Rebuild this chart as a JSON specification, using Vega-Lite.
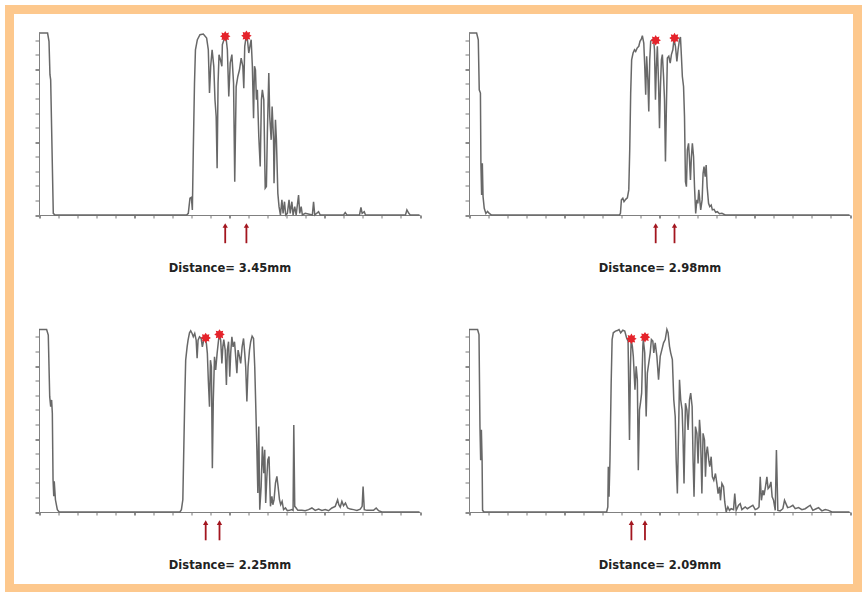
{
"$schema": "https://vega.github.io/schema/vega-lite/v6.json",
"width": 848, "height": 579,
"autosize": {"type": "none"},
"padding": {"left": 9.5, "top": 9.5, "right": 4.5, "bottom": 3.5},
"background": "white",
"config": {
  "view": {"stroke": "#FDC88D", "strokeWidth": 9},
  "axis": {"grid": false, "labels": false, "domainColor": "#808080", "tickColor": "#787878", "domainWidth": 1, "tickWidth": 1,
           "titleFont": "DejaVu Sans", "titleFontSize": 11.5, "titleFontWeight": "bold", "titleColor": "#222222"}
},
"datasets": {
  "tl": [{"x":0,"y":10},{"x":0.36,"y":10},{"x":0.42,"y":9.54},{"x":0.46,"y":7.71},{"x":0.49,"y":7.43},{"x":0.6,"y":0.09},{"x":0.67,"y":0},{"x":6.2,"y":0},{"x":6.27,"y":0.09},{"x":6.34,"y":0.92},{"x":6.4,"y":0.97},{"x":6.44,"y":0.28},{"x":6.48,"y":3.58},{"x":6.53,"y":7.25},{"x":6.57,"y":9.08},{"x":6.65,"y":9.63},{"x":6.76,"y":9.91},{"x":6.9,"y":9.94},{"x":7.04,"y":9.72},{"x":7.11,"y":9.08},{"x":7.16,"y":6.7},{"x":7.21,"y":8.17},{"x":7.27,"y":9.08},{"x":7.34,"y":8.17},{"x":7.39,"y":6.33},{"x":7.44,"y":5.41},{"x":7.48,"y":2.57},{"x":7.52,"y":7.25},{"x":7.56,"y":8.81},{"x":7.62,"y":8.53},{"x":7.68,"y":8.17},{"x":7.7,"y":9.36},{"x":7.79,"y":9.72},{"x":7.86,"y":9.67},{"x":7.91,"y":9.08},{"x":7.97,"y":6.51},{"x":8.03,"y":8.35},{"x":8.1,"y":8.81},{"x":8.17,"y":7.25},{"x":8.22,"y":1.83},{"x":8.28,"y":7.06},{"x":8.35,"y":7.61},{"x":8.42,"y":7.98},{"x":8.49,"y":8.62},{"x":8.56,"y":8.17},{"x":8.6,"y":6.97},{"x":8.64,"y":9.27},{"x":8.7,"y":9.82},{"x":8.75,"y":9.67},{"x":8.81,"y":8.9},{"x":8.87,"y":9.36},{"x":8.91,"y":9.63},{"x":8.96,"y":8.17},{"x":9.01,"y":5.32},{"x":9.05,"y":8.17},{"x":9.09,"y":7.98},{"x":9.13,"y":6.33},{"x":9.17,"y":6.88},{"x":9.23,"y":4.31},{"x":9.29,"y":2.66},{"x":9.34,"y":6.33},{"x":9.38,"y":6.88},{"x":9.44,"y":6.33},{"x":9.5,"y":1.47},{"x":9.55,"y":1.56},{"x":9.59,"y":4.5},{"x":9.65,"y":7.8},{"x":9.69,"y":5.41},{"x":9.75,"y":4.13},{"x":9.79,"y":5.96},{"x":9.85,"y":4.13},{"x":9.87,"y":1.74},{"x":9.93,"y":5.23},{"x":9.97,"y":4.13},{"x":10.03,"y":1.19},{"x":10.08,"y":0.46},{"x":10.14,"y":0},{"x":10.2,"y":0.83},{"x":10.25,"y":0.09},{"x":10.31,"y":0.73},{"x":10.36,"y":0},{"x":10.43,"y":0.09},{"x":10.5,"y":0.83},{"x":10.55,"y":0.09},{"x":10.62,"y":0.73},{"x":10.67,"y":0},{"x":10.74,"y":0.46},{"x":10.8,"y":0},{"x":10.9,"y":1.1},{"x":10.95,"y":0.09},{"x":11.01,"y":0.46},{"x":11.06,"y":0},{"x":11.18,"y":0.09},{"x":11.48,"y":0},{"x":11.53,"y":0.73},{"x":11.58,"y":0},{"x":11.74,"y":0.18},{"x":11.81,"y":0},{"x":12.79,"y":0},{"x":12.86,"y":0.13},{"x":12.93,"y":0},{"x":13.46,"y":0},{"x":13.52,"y":0.42},{"x":13.57,"y":0.09},{"x":13.66,"y":0.18},{"x":13.71,"y":0},{"x":15.39,"y":0},{"x":15.45,"y":0.28},{"x":15.53,"y":0.09},{"x":15.59,"y":0},{"x":15.98,"y":0}],
  "tr": [{"x":0,"y":10},{"x":0.32,"y":10},{"x":0.39,"y":9.63},{"x":0.43,"y":6.88},{"x":0.48,"y":6.7},{"x":0.5,"y":2.84},{"x":0.53,"y":1.1},{"x":0.56,"y":2.84},{"x":0.59,"y":1.01},{"x":0.64,"y":0.37},{"x":0.71,"y":0.09},{"x":0.78,"y":0.2},{"x":0.85,"y":0.09},{"x":0.95,"y":0},{"x":6.32,"y":0},{"x":6.36,"y":0.09},{"x":6.4,"y":0.83},{"x":6.46,"y":0.92},{"x":6.51,"y":0.73},{"x":6.58,"y":0.86},{"x":6.65,"y":0.94},{"x":6.71,"y":1.38},{"x":6.75,"y":3.58},{"x":6.79,"y":6.7},{"x":6.83,"y":8.53},{"x":6.89,"y":8.9},{"x":6.95,"y":9.08},{"x":7,"y":8.99},{"x":7.06,"y":9.17},{"x":7.13,"y":9.27},{"x":7.18,"y":9.54},{"x":7.24,"y":9.67},{"x":7.28,"y":9.85},{"x":7.34,"y":9.45},{"x":7.38,"y":8.17},{"x":7.42,"y":6.61},{"x":7.46,"y":8.72},{"x":7.51,"y":7.43},{"x":7.55,"y":5.69},{"x":7.59,"y":8.53},{"x":7.63,"y":9.54},{"x":7.69,"y":9.63},{"x":7.75,"y":9.67},{"x":7.79,"y":9.08},{"x":7.83,"y":6.33},{"x":7.87,"y":8.17},{"x":7.91,"y":9.27},{"x":7.96,"y":7.25},{"x":8,"y":4.77},{"x":8.04,"y":7.06},{"x":8.08,"y":8.53},{"x":8.12,"y":8.81},{"x":8.17,"y":7.61},{"x":8.21,"y":6.33},{"x":8.25,"y":2.94},{"x":8.29,"y":5.96},{"x":8.33,"y":8.62},{"x":8.39,"y":8.72},{"x":8.45,"y":8.35},{"x":8.5,"y":8.81},{"x":8.56,"y":9.08},{"x":8.61,"y":9.67},{"x":8.67,"y":9.27},{"x":8.73,"y":8.44},{"x":8.78,"y":9.08},{"x":8.84,"y":9.63},{"x":8.88,"y":9.78},{"x":8.92,"y":8.72},{"x":8.96,"y":7.61},{"x":9.01,"y":7.06},{"x":9.05,"y":5.41},{"x":9.09,"y":1.83},{"x":9.13,"y":1.56},{"x":9.17,"y":3.58},{"x":9.22,"y":3.94},{"x":9.26,"y":3.03},{"x":9.3,"y":1.93},{"x":9.34,"y":3.21},{"x":9.38,"y":3.94},{"x":9.43,"y":3.21},{"x":9.47,"y":1.56},{"x":9.52,"y":0.09},{"x":9.57,"y":0.83},{"x":9.61,"y":0.64},{"x":9.65,"y":1.38},{"x":9.69,"y":0.83},{"x":9.73,"y":0.28},{"x":9.79,"y":0.83},{"x":9.83,"y":2.29},{"x":9.87,"y":2.66},{"x":9.92,"y":2.11},{"x":9.96,"y":2.75},{"x":10,"y":1.56},{"x":10.06,"y":0.64},{"x":10.11,"y":0.46},{"x":10.17,"y":0.55},{"x":10.22,"y":0.28},{"x":10.29,"y":0.31},{"x":10.36,"y":0.15},{"x":10.43,"y":0.18},{"x":10.52,"y":0.07},{"x":10.62,"y":0.09},{"x":10.76,"y":0},{"x":15.98,"y":0}],
  "bl": [{"x":0,"y":10},{"x":0.32,"y":10},{"x":0.39,"y":9.69},{"x":0.45,"y":6.32},{"x":0.49,"y":5.77},{"x":0.53,"y":6.14},{"x":0.56,"y":5.41},{"x":0.59,"y":1.77},{"x":0.62,"y":0.86},{"x":0.64,"y":1.68},{"x":0.69,"y":0.67},{"x":0.77,"y":0.13},{"x":0.85,"y":0},{"x":5.92,"y":0},{"x":5.98,"y":0.13},{"x":6.04,"y":0.67},{"x":6.08,"y":3.41},{"x":6.12,"y":6.14},{"x":6.16,"y":8.32},{"x":6.22,"y":9.05},{"x":6.26,"y":9.42},{"x":6.32,"y":9.82},{"x":6.37,"y":9.93},{"x":6.43,"y":9.78},{"x":6.48,"y":9.6},{"x":6.54,"y":9.78},{"x":6.6,"y":9.42},{"x":6.64,"y":8.42},{"x":6.68,"y":9.42},{"x":6.74,"y":9.6},{"x":6.81,"y":9.51},{"x":6.86,"y":9.05},{"x":6.92,"y":9.42},{"x":6.97,"y":9.56},{"x":7.03,"y":9.23},{"x":7.07,"y":8.69},{"x":7.11,"y":7.23},{"x":7.16,"y":5.77},{"x":7.2,"y":8.32},{"x":7.24,"y":7.96},{"x":7.28,"y":2.4},{"x":7.32,"y":6.14},{"x":7.37,"y":8.51},{"x":7.42,"y":7.78},{"x":7.48,"y":8.69},{"x":7.54,"y":9.42},{"x":7.58,"y":9.73},{"x":7.63,"y":9.42},{"x":7.68,"y":8.14},{"x":7.72,"y":9.05},{"x":7.76,"y":9.45},{"x":7.82,"y":8.87},{"x":7.87,"y":6.96},{"x":7.91,"y":8.87},{"x":7.96,"y":9.33},{"x":8.01,"y":7.41},{"x":8.05,"y":8.69},{"x":8.1,"y":9.6},{"x":8.15,"y":9.05},{"x":8.21,"y":9.33},{"x":8.25,"y":8.69},{"x":8.31,"y":7.6},{"x":8.36,"y":8.87},{"x":8.42,"y":8.51},{"x":8.47,"y":8.14},{"x":8.53,"y":9.05},{"x":8.59,"y":9.51},{"x":8.64,"y":8.69},{"x":8.68,"y":7.96},{"x":8.73,"y":6.05},{"x":8.78,"y":7.96},{"x":8.84,"y":8.87},{"x":8.89,"y":9.33},{"x":8.95,"y":9.64},{"x":9.01,"y":9.51},{"x":9.06,"y":7.96},{"x":9.1,"y":5.96},{"x":9.15,"y":3.41},{"x":9.19,"y":1.04},{"x":9.23,"y":4.68},{"x":9.27,"y":0.13},{"x":9.33,"y":1.4},{"x":9.38,"y":3.59},{"x":9.44,"y":2.13},{"x":9.48,"y":3.41},{"x":9.52,"y":0.49},{"x":9.57,"y":1.95},{"x":9.61,"y":2.86},{"x":9.66,"y":3.04},{"x":9.72,"y":0.31},{"x":9.78,"y":0.86},{"x":9.82,"y":0.4},{"x":9.87,"y":0.67},{"x":9.93,"y":1.58},{"x":9.99,"y":1.95},{"x":10.04,"y":1.4},{"x":10.1,"y":0.67},{"x":10.15,"y":0.4},{"x":10.21,"y":0.58},{"x":10.27,"y":0.13},{"x":10.35,"y":0.22},{"x":10.43,"y":0.07},{"x":10.52,"y":0.09},{"x":10.62,"y":0.13},{"x":10.67,"y":0.09},{"x":10.7,"y":4.77},{"x":10.74,"y":0.31},{"x":10.8,"y":0.22},{"x":10.87,"y":0.09},{"x":11.04,"y":0.09},{"x":11.18,"y":0.07},{"x":11.32,"y":0.13},{"x":11.46,"y":0.22},{"x":11.6,"y":0.09},{"x":11.74,"y":0.16},{"x":11.88,"y":0.09},{"x":12.02,"y":0.13},{"x":12.16,"y":0.07},{"x":12.3,"y":0.22},{"x":12.44,"y":0.31},{"x":12.54,"y":0.67},{"x":12.59,"y":0.4},{"x":12.65,"y":0.27},{"x":12.72,"y":0.58},{"x":12.79,"y":0.35},{"x":12.87,"y":0.49},{"x":12.96,"y":0.22},{"x":13.07,"y":0.16},{"x":13.21,"y":0.13},{"x":13.35,"y":0.09},{"x":13.49,"y":0.16},{"x":13.57,"y":0.31},{"x":13.61,"y":1.4},{"x":13.66,"y":0.13},{"x":13.77,"y":0.09},{"x":14.05,"y":0.09},{"x":14.16,"y":0.22},{"x":14.26,"y":0.07},{"x":14.4,"y":0},{"x":15.98,"y":0}],
  "br": [{"x":0,"y":10},{"x":0.36,"y":10},{"x":0.42,"y":9.72},{"x":0.46,"y":4.68},{"x":0.49,"y":2.84},{"x":0.52,"y":4.5},{"x":0.55,"y":2.84},{"x":0.57,"y":0.09},{"x":0.63,"y":0},{"x":5.78,"y":0},{"x":5.83,"y":0.28},{"x":5.85,"y":2.48},{"x":5.88,"y":0.83},{"x":5.92,"y":2.84},{"x":5.97,"y":7.06},{"x":6.01,"y":9.45},{"x":6.06,"y":9.82},{"x":6.15,"y":9.91},{"x":6.23,"y":9.94},{"x":6.3,"y":10},{"x":6.37,"y":9.82},{"x":6.46,"y":9.96},{"x":6.54,"y":9.91},{"x":6.62,"y":9.54},{"x":6.68,"y":9.36},{"x":6.74,"y":3.94},{"x":6.78,"y":7.98},{"x":6.81,"y":9.45},{"x":6.86,"y":9.08},{"x":6.9,"y":8.53},{"x":6.97,"y":6.7},{"x":7.02,"y":7.98},{"x":7.07,"y":7.25},{"x":7.11,"y":2.29},{"x":7.16,"y":5.6},{"x":7.2,"y":5.96},{"x":7.25,"y":6.51},{"x":7.3,"y":9.08},{"x":7.32,"y":9.45},{"x":7.38,"y":8.72},{"x":7.44,"y":5.23},{"x":7.49,"y":7.61},{"x":7.55,"y":8.17},{"x":7.61,"y":8.72},{"x":7.66,"y":9.45},{"x":7.72,"y":9.36},{"x":7.76,"y":8.72},{"x":7.82,"y":9.27},{"x":7.89,"y":8.53},{"x":7.96,"y":7.25},{"x":8.03,"y":8.53},{"x":8.1,"y":8.9},{"x":8.17,"y":9.27},{"x":8.24,"y":9.45},{"x":8.31,"y":10},{"x":8.36,"y":9.82},{"x":8.42,"y":9.08},{"x":8.47,"y":8.72},{"x":8.54,"y":8.35},{"x":8.6,"y":6.15},{"x":8.66,"y":5.23},{"x":8.7,"y":2.84},{"x":8.75,"y":1.01},{"x":8.8,"y":4.31},{"x":8.84,"y":7.25},{"x":8.89,"y":6.15},{"x":8.95,"y":5.6},{"x":8.99,"y":3.94},{"x":9.03,"y":1.56},{"x":9.09,"y":5.96},{"x":9.15,"y":5.6},{"x":9.2,"y":4.5},{"x":9.26,"y":6.15},{"x":9.31,"y":6.51},{"x":9.37,"y":5.78},{"x":9.41,"y":2.84},{"x":9.45,"y":0.83},{"x":9.51,"y":4.68},{"x":9.57,"y":4.31},{"x":9.62,"y":2.66},{"x":9.68,"y":5.05},{"x":9.72,"y":4.31},{"x":9.78,"y":1.01},{"x":9.83,"y":4.31},{"x":9.89,"y":3.94},{"x":9.93,"y":1.93},{"x":9.97,"y":3.21},{"x":10.01,"y":3.58},{"x":10.07,"y":2.84},{"x":10.11,"y":2.48},{"x":10.17,"y":3.03},{"x":10.22,"y":1.93},{"x":10.28,"y":1.74},{"x":10.35,"y":2.11},{"x":10.41,"y":1.56},{"x":10.46,"y":1.01},{"x":10.52,"y":1.38},{"x":10.56,"y":0.64},{"x":10.62,"y":1.56},{"x":10.69,"y":1.38},{"x":10.74,"y":0.55},{"x":10.8,"y":0},{"x":10.87,"y":0.28},{"x":10.94,"y":0.09},{"x":11.01,"y":0.18},{"x":11.11,"y":0.13},{"x":11.16,"y":1.01},{"x":11.22,"y":0.09},{"x":11.32,"y":0.37},{"x":11.39,"y":0.46},{"x":11.46,"y":0.13},{"x":11.6,"y":0.28},{"x":11.69,"y":0.18},{"x":11.81,"y":0.28},{"x":11.92,"y":0.37},{"x":12.02,"y":0.13},{"x":12.11,"y":0.18},{"x":12.18,"y":0.28},{"x":12.23,"y":1.93},{"x":12.28,"y":0.64},{"x":12.34,"y":1.19},{"x":12.39,"y":0.92},{"x":12.45,"y":1.38},{"x":12.51,"y":1.93},{"x":12.56,"y":1.28},{"x":12.62,"y":1.38},{"x":12.68,"y":1.65},{"x":12.73,"y":0.83},{"x":12.79,"y":0.64},{"x":12.86,"y":0.09},{"x":12.91,"y":3.39},{"x":12.97,"y":0.09},{"x":13.07,"y":0.06},{"x":13.18,"y":0.18},{"x":13.25,"y":0.64},{"x":13.31,"y":0.46},{"x":13.38,"y":0.24},{"x":13.49,"y":0.28},{"x":13.6,"y":0.37},{"x":13.7,"y":0.18},{"x":13.84,"y":0.24},{"x":13.98,"y":0.13},{"x":14.12,"y":0.18},{"x":14.23,"y":0.28},{"x":14.33,"y":0.37},{"x":14.44,"y":0.09},{"x":14.58,"y":0.18},{"x":14.68,"y":0.24},{"x":14.82,"y":0.06},{"x":14.96,"y":0.13},{"x":15.1,"y":0.09},{"x":15.24,"y":0},{"x":15.98,"y":0}],
  "tlPeaks": [{"x":7.82,"y":9.82},{"x":8.71,"y":9.85}],
  "trPeaks": [{"x":7.84,"y":9.6},{"x":8.63,"y":9.72}],
  "blPeaks": [{"x":7.0,"y":9.54},{"x":7.58,"y":9.73}],
  "brPeaks": [{"x":6.82,"y":9.49},{"x":7.39,"y":9.58}]
},
"layer": [
 {"layer": [
  {"data": {"name": "tl"}, "mark": {"type": "line", "color": "#686868", "strokeWidth": 1.5},
   "encoding": {
    "x": {"field": "x", "type": "quantitative", "scale": {"domain": [0,16], "range": [29.5,410.5], "nice": false, "zero": false},
      "axis": {"orient": "bottom", "offset": -373.5, "values": [0,0.2,0.4,0.6,0.8,1,1.2,1.4,1.6,1.8,2,2.2,2.4,2.6,2.8,3,3.2,3.4,3.6,3.8,4,4.2,4.4,4.6,4.8,5,5.2,5.4,5.6,5.8,6,6.2,6.4,6.6,6.8,7,7.2,7.4,7.6,7.8,8,8.2,8.4,8.6,8.8,9,9.2,9.4,9.6,9.8,10,10.2,10.4,10.6,10.8,11,11.2,11.4,11.6,11.8,12,12.2,12.4,12.6,12.8,13,13.2,13.4,13.6,13.8,14,14.2,14.4,14.6,14.8,15,15.2,15.4,15.6,15.8,16],
        "tickSize": 3, "tickWidth": {"condition": {"test": "datum.value % 1 === 0", "value": 1.7}, "value": 1}, "title": "Distance= 3.45mm", "titlePadding": 44}},
    "y": {"field": "y", "type": "quantitative", "scale": {"domain": [0,10], "range": [205.5,23.5], "nice": false, "zero": false},
      "axis": {"orient": "left", "offset": -29.5, "values": [0,0.2,0.4,0.6,0.8,1,1.2,1.4,1.6,1.8,2,2.2,2.4,2.6,2.8,3,3.2,3.4,3.6,3.8,4,4.2,4.4,4.6,4.8,5,5.2,5.4,5.6,5.8,6,6.2,6.4,6.6,6.8,7,7.2,7.4,7.6,7.8,8,8.2,8.4,8.6,8.8,9,9.2,9.4,9.6,9.8,10],
        "tickSize": 4, "tickWidth": {"condition": {"test": "datum.value % 1 === 0", "value": 1.7}, "value": 1}, "title": null}}
   }},
  {"data": {"name": "tlPeaks"}, "mark": {"type": "point", "shape": "M0,-1L0.25,-0.6L0.71,-0.71L0.6,-0.25L1,0L0.6,0.25L0.71,0.71L0.25,0.6L0,1L-0.25,0.6L-0.71,0.71L-0.6,0.25L-1,0L-0.6,-0.25L-0.71,-0.71L-0.25,-0.6Z", "filled": true, "color": "#E5232B", "size": 110, "opacity": 1},
   "encoding": {"x": {"field": "x", "type": "quantitative", "scale": {"domain": [0,16], "range": [29.5,410.5]}},
                "y": {"field": "y", "type": "quantitative", "scale": {"domain": [0,10], "range": [205.5,23.5]}}}},
  {"data": {"name": "tlPeaks"}, "mark": {"type": "rule", "color": "#A3161F", "strokeWidth": 1.8},
   "encoding": {"x": {"field": "x", "type": "quantitative", "scale": {"domain": [0,16], "range": [29.5,410.5]}},
                "y": {"datum": -0.62, "type": "quantitative", "scale": {"domain": [0,10], "range": [205.5,23.5]}}, "y2": {"datum": -1.55}}},
  {"data": {"name": "tlPeaks"}, "mark": {"type": "point", "shape": "triangle-up", "filled": true, "color": "#A3161F", "size": 28, "opacity": 1},
   "encoding": {"x": {"field": "x", "type": "quantitative", "scale": {"domain": [0,16], "range": [29.5,410.5]}},
                "y": {"datum": -0.58, "type": "quantitative", "scale": {"domain": [0,10], "range": [205.5,23.5]}}}}
 ]},
 {"layer": [
  {"data": {"name": "tr"}, "mark": {"type": "line", "color": "#686868", "strokeWidth": 1.5},
   "encoding": {
    "x": {"field": "x", "type": "quantitative", "scale": {"domain": [0,16], "range": [459.5,840.5], "nice": false, "zero": false},
      "axis": {"orient": "bottom", "offset": -373.5, "values": [0,0.2,0.4,0.6,0.8,1,1.2,1.4,1.6,1.8,2,2.2,2.4,2.6,2.8,3,3.2,3.4,3.6,3.8,4,4.2,4.4,4.6,4.8,5,5.2,5.4,5.6,5.8,6,6.2,6.4,6.6,6.8,7,7.2,7.4,7.6,7.8,8,8.2,8.4,8.6,8.8,9,9.2,9.4,9.6,9.8,10,10.2,10.4,10.6,10.8,11,11.2,11.4,11.6,11.8,12,12.2,12.4,12.6,12.8,13,13.2,13.4,13.6,13.8,14,14.2,14.4,14.6,14.8,15,15.2,15.4,15.6,15.8,16],
        "tickSize": 3, "tickWidth": {"condition": {"test": "datum.value % 1 === 0", "value": 1.7}, "value": 1}, "title": "Distance= 2.98mm", "titlePadding": 44}},
    "y": {"field": "y", "type": "quantitative", "scale": {"domain": [0,10], "range": [205.5,23.5], "nice": false, "zero": false},
      "axis": {"orient": "left", "offset": -459.5, "values": [0,0.2,0.4,0.6,0.8,1,1.2,1.4,1.6,1.8,2,2.2,2.4,2.6,2.8,3,3.2,3.4,3.6,3.8,4,4.2,4.4,4.6,4.8,5,5.2,5.4,5.6,5.8,6,6.2,6.4,6.6,6.8,7,7.2,7.4,7.6,7.8,8,8.2,8.4,8.6,8.8,9,9.2,9.4,9.6,9.8,10],
        "tickSize": 4, "tickWidth": {"condition": {"test": "datum.value % 1 === 0", "value": 1.7}, "value": 1}, "title": null}}
   }},
  {"data": {"name": "trPeaks"}, "mark": {"type": "point", "shape": "M0,-1L0.25,-0.6L0.71,-0.71L0.6,-0.25L1,0L0.6,0.25L0.71,0.71L0.25,0.6L0,1L-0.25,0.6L-0.71,0.71L-0.6,0.25L-1,0L-0.6,-0.25L-0.71,-0.71L-0.25,-0.6Z", "filled": true, "color": "#E5232B", "size": 110, "opacity": 1},
   "encoding": {"x": {"field": "x", "type": "quantitative", "scale": {"domain": [0,16], "range": [459.5,840.5]}},
                "y": {"field": "y", "type": "quantitative", "scale": {"domain": [0,10], "range": [205.5,23.5]}}}},
  {"data": {"name": "trPeaks"}, "mark": {"type": "rule", "color": "#A3161F", "strokeWidth": 1.8},
   "encoding": {"x": {"field": "x", "type": "quantitative", "scale": {"domain": [0,16], "range": [459.5,840.5]}},
                "y": {"datum": -0.62, "type": "quantitative", "scale": {"domain": [0,10], "range": [205.5,23.5]}}, "y2": {"datum": -1.55}}},
  {"data": {"name": "trPeaks"}, "mark": {"type": "point", "shape": "triangle-up", "filled": true, "color": "#A3161F", "size": 28, "opacity": 1},
   "encoding": {"x": {"field": "x", "type": "quantitative", "scale": {"domain": [0,16], "range": [459.5,840.5]}},
                "y": {"datum": -0.58, "type": "quantitative", "scale": {"domain": [0,10], "range": [205.5,23.5]}}}}
 ]},
 {"layer": [
  {"data": {"name": "bl"}, "mark": {"type": "line", "color": "#686868", "strokeWidth": 1.5},
   "encoding": {
    "x": {"field": "x", "type": "quantitative", "scale": {"domain": [0,16], "range": [29.5,410.5], "nice": false, "zero": false},
      "axis": {"orient": "bottom", "offset": -76.5, "values": [0,0.2,0.4,0.6,0.8,1,1.2,1.4,1.6,1.8,2,2.2,2.4,2.6,2.8,3,3.2,3.4,3.6,3.8,4,4.2,4.4,4.6,4.8,5,5.2,5.4,5.6,5.8,6,6.2,6.4,6.6,6.8,7,7.2,7.4,7.6,7.8,8,8.2,8.4,8.6,8.8,9,9.2,9.4,9.6,9.8,10,10.2,10.4,10.6,10.8,11,11.2,11.4,11.6,11.8,12,12.2,12.4,12.6,12.8,13,13.2,13.4,13.6,13.8,14,14.2,14.4,14.6,14.8,15,15.2,15.4,15.6,15.8,16],
        "tickSize": 3, "tickWidth": {"condition": {"test": "datum.value % 1 === 0", "value": 1.7}, "value": 1}, "title": "Distance= 2.25mm", "titlePadding": 44}},
    "y": {"field": "y", "type": "quantitative", "scale": {"domain": [0,10], "range": [502.5,320], "nice": false, "zero": false},
      "axis": {"orient": "left", "offset": -29.5, "values": [0,0.2,0.4,0.6,0.8,1,1.2,1.4,1.6,1.8,2,2.2,2.4,2.6,2.8,3,3.2,3.4,3.6,3.8,4,4.2,4.4,4.6,4.8,5,5.2,5.4,5.6,5.8,6,6.2,6.4,6.6,6.8,7,7.2,7.4,7.6,7.8,8,8.2,8.4,8.6,8.8,9,9.2,9.4,9.6,9.8,10],
        "tickSize": 4, "tickWidth": {"condition": {"test": "datum.value % 1 === 0", "value": 1.7}, "value": 1}, "title": null}}
   }},
  {"data": {"name": "blPeaks"}, "mark": {"type": "point", "shape": "M0,-1L0.25,-0.6L0.71,-0.71L0.6,-0.25L1,0L0.6,0.25L0.71,0.71L0.25,0.6L0,1L-0.25,0.6L-0.71,0.71L-0.6,0.25L-1,0L-0.6,-0.25L-0.71,-0.71L-0.25,-0.6Z", "filled": true, "color": "#E5232B", "size": 110, "opacity": 1},
   "encoding": {"x": {"field": "x", "type": "quantitative", "scale": {"domain": [0,16], "range": [29.5,410.5]}},
                "y": {"field": "y", "type": "quantitative", "scale": {"domain": [0,10], "range": [502.5,320]}}}},
  {"data": {"name": "blPeaks"}, "mark": {"type": "rule", "color": "#A3161F", "strokeWidth": 1.8},
   "encoding": {"x": {"field": "x", "type": "quantitative", "scale": {"domain": [0,16], "range": [29.5,410.5]}},
                "y": {"datum": -0.62, "type": "quantitative", "scale": {"domain": [0,10], "range": [502.5,320]}}, "y2": {"datum": -1.55}}},
  {"data": {"name": "blPeaks"}, "mark": {"type": "point", "shape": "triangle-up", "filled": true, "color": "#A3161F", "size": 28, "opacity": 1},
   "encoding": {"x": {"field": "x", "type": "quantitative", "scale": {"domain": [0,16], "range": [29.5,410.5]}},
                "y": {"datum": -0.58, "type": "quantitative", "scale": {"domain": [0,10], "range": [502.5,320]}}}}
 ]},
 {"layer": [
  {"data": {"name": "br"}, "mark": {"type": "line", "color": "#686868", "strokeWidth": 1.5},
   "encoding": {
    "x": {"field": "x", "type": "quantitative", "scale": {"domain": [0,16], "range": [459.5,840.5], "nice": false, "zero": false},
      "axis": {"orient": "bottom", "offset": -76.5, "values": [0,0.2,0.4,0.6,0.8,1,1.2,1.4,1.6,1.8,2,2.2,2.4,2.6,2.8,3,3.2,3.4,3.6,3.8,4,4.2,4.4,4.6,4.8,5,5.2,5.4,5.6,5.8,6,6.2,6.4,6.6,6.8,7,7.2,7.4,7.6,7.8,8,8.2,8.4,8.6,8.8,9,9.2,9.4,9.6,9.8,10,10.2,10.4,10.6,10.8,11,11.2,11.4,11.6,11.8,12,12.2,12.4,12.6,12.8,13,13.2,13.4,13.6,13.8,14,14.2,14.4,14.6,14.8,15,15.2,15.4,15.6,15.8,16],
        "tickSize": 3, "tickWidth": {"condition": {"test": "datum.value % 1 === 0", "value": 1.7}, "value": 1}, "title": "Distance= 2.09mm", "titlePadding": 44}},
    "y": {"field": "y", "type": "quantitative", "scale": {"domain": [0,10], "range": [502.5,320], "nice": false, "zero": false},
      "axis": {"orient": "left", "offset": -459.5, "values": [0,0.2,0.4,0.6,0.8,1,1.2,1.4,1.6,1.8,2,2.2,2.4,2.6,2.8,3,3.2,3.4,3.6,3.8,4,4.2,4.4,4.6,4.8,5,5.2,5.4,5.6,5.8,6,6.2,6.4,6.6,6.8,7,7.2,7.4,7.6,7.8,8,8.2,8.4,8.6,8.8,9,9.2,9.4,9.6,9.8,10],
        "tickSize": 4, "tickWidth": {"condition": {"test": "datum.value % 1 === 0", "value": 1.7}, "value": 1}, "title": null}}
   }},
  {"data": {"name": "brPeaks"}, "mark": {"type": "point", "shape": "M0,-1L0.25,-0.6L0.71,-0.71L0.6,-0.25L1,0L0.6,0.25L0.71,0.71L0.25,0.6L0,1L-0.25,0.6L-0.71,0.71L-0.6,0.25L-1,0L-0.6,-0.25L-0.71,-0.71L-0.25,-0.6Z", "filled": true, "color": "#E5232B", "size": 110, "opacity": 1},
   "encoding": {"x": {"field": "x", "type": "quantitative", "scale": {"domain": [0,16], "range": [459.5,840.5]}},
                "y": {"field": "y", "type": "quantitative", "scale": {"domain": [0,10], "range": [502.5,320]}}}},
  {"data": {"name": "brPeaks"}, "mark": {"type": "rule", "color": "#A3161F", "strokeWidth": 1.8},
   "encoding": {"x": {"field": "x", "type": "quantitative", "scale": {"domain": [0,16], "range": [459.5,840.5]}},
                "y": {"datum": -0.62, "type": "quantitative", "scale": {"domain": [0,10], "range": [502.5,320]}}, "y2": {"datum": -1.55}}},
  {"data": {"name": "brPeaks"}, "mark": {"type": "point", "shape": "triangle-up", "filled": true, "color": "#A3161F", "size": 28, "opacity": 1},
   "encoding": {"x": {"field": "x", "type": "quantitative", "scale": {"domain": [0,16], "range": [459.5,840.5]}},
                "y": {"datum": -0.58, "type": "quantitative", "scale": {"domain": [0,10], "range": [502.5,320]}}}}
 ]}
],
"resolve": {"scale": {"x": "independent", "y": "independent"}, "axis": {"x": "independent", "y": "independent"}}
}
